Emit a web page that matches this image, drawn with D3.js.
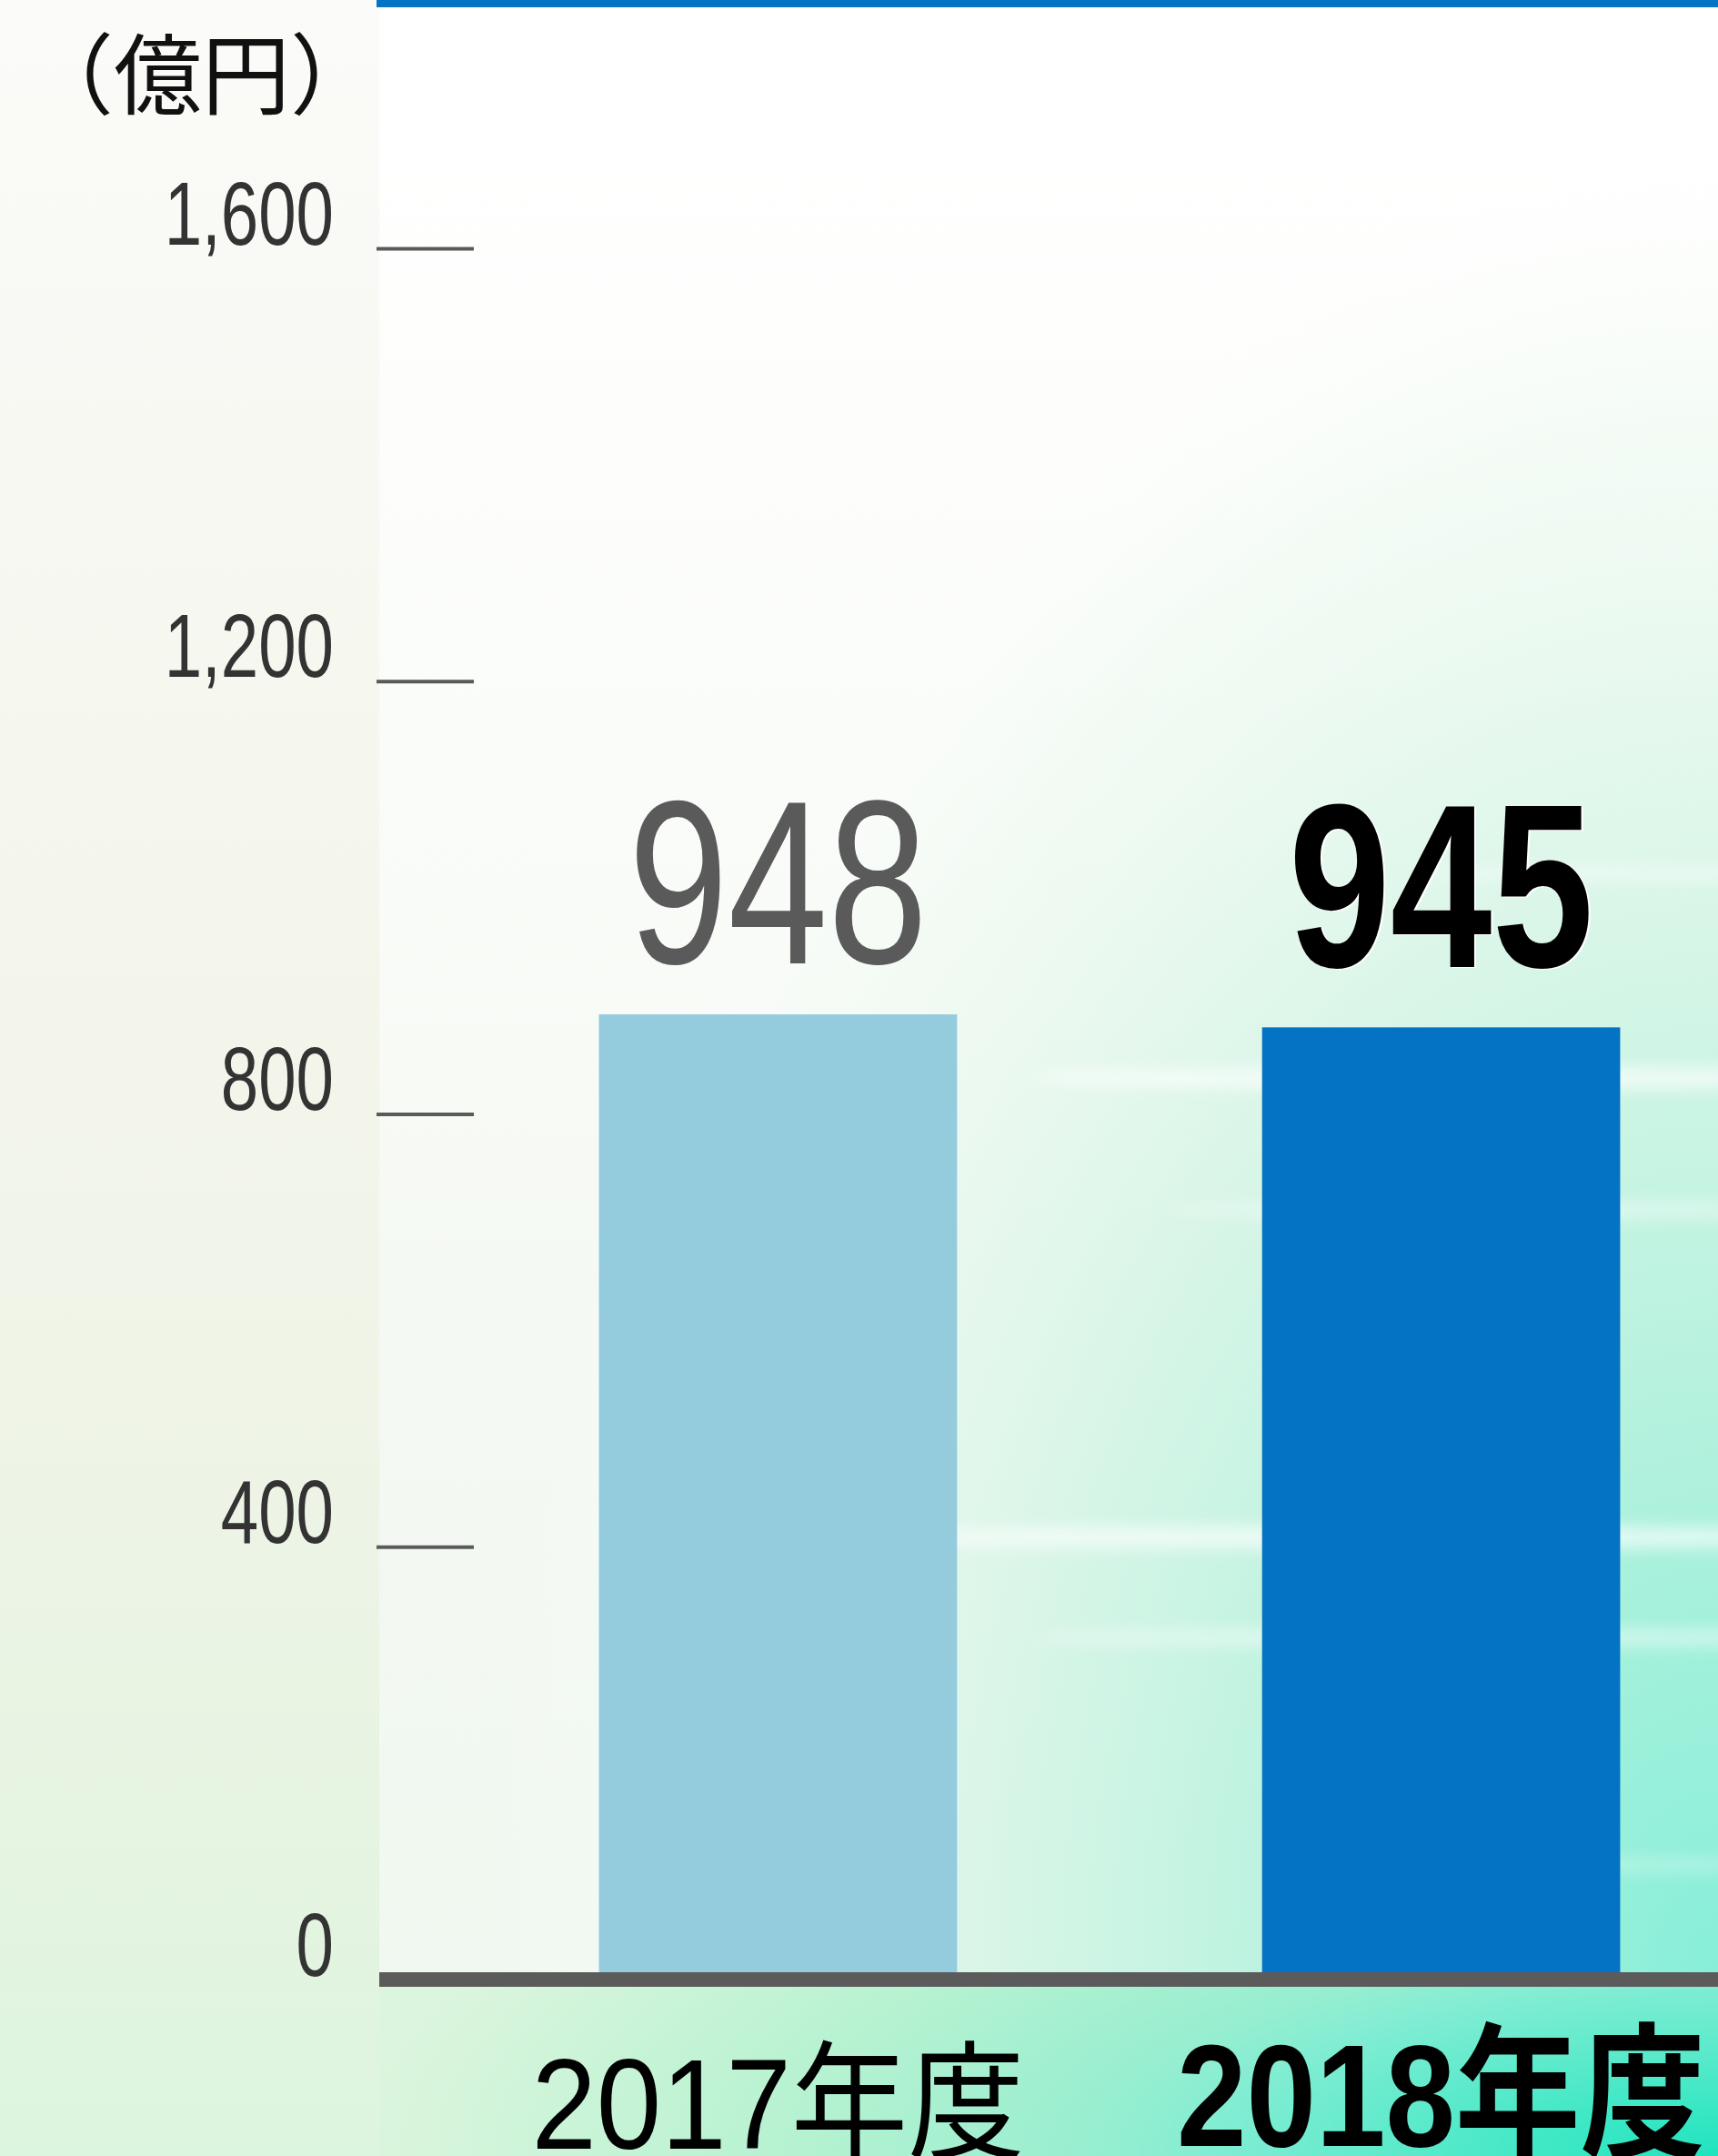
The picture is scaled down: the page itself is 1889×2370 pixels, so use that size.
<!DOCTYPE html>
<html>
<head>
<meta charset="utf-8">
<title>億円 2017年度 / 2018年度</title>
<script src="https://cdn.jsdelivr.net/npm/d3@7"></script>
<style>
  html, body { margin: 0; padding: 0; background: #fff; overflow: hidden; }
  svg { display: block; }
</style>
</head>
<body>
<div id="chart"></div>
<script>
// data
const categories = ["2017年度", "2018年度"];
const valueLabels = [948, 945];          // printed figures
const barValues = [892, 880];            // bar heights as measured against the axis ticks
const barColors = ["#94cbdd", "#0473c4"];
const tickValues = [0, 400, 800, 1200, 1600];
const unitLabel = "（億円）";

const width = 1889,
      height = 2370;

const latin = "'Liberation Sans', Arial, 'Noto Sans CJK JP', sans-serif";
const cjk = "'Noto Sans CJK JP', 'Liberation Sans', sans-serif";

const svg = d3.select("#chart").append("svg")
    .attr("width", width)
    .attr("height", height);

const defs = svg.append("defs");

function addStops(grad, stops) {
  stops.forEach(s => grad.append("stop")
    .attr("offset", s[0]).attr("stop-color", s[1])
    .attr("stop-opacity", s[2] === undefined ? 1 : s[2]));
}

// background gradients
addStops(defs.append("linearGradient").attr("id", "bgLin")
    .attr("x1", 0).attr("y1", 0).attr("x2", 0).attr("y2", 1),
  [[0, "#ffffff"], [0.2, "#fdfefc"], [0.6, "#f5f9f3"], [1, "#eef8ef"]]);

addStops(defs.append("radialGradient").attr("id", "plotRad")
    .attr("gradientUnits", "userSpaceOnUse")
    .attr("cx", 1889).attr("cy", 2176).attr("r", 1500)
    .attr("gradientTransform", "translate(1889,2176) scale(0.9,1.35) translate(-1889,-2176)"),
  [[0, "#86efd8", 1], [0.3, "#aff1dc", 0.95], [0.6, "#d3f5e5", 0.8], [0.85, "#ecf9f0", 0.5], [1, "#ffffff", 0]]);

addStops(defs.append("radialGradient").attr("id", "footRad")
    .attr("gradientUnits", "userSpaceOnUse")
    .attr("cx", 1889).attr("cy", 2370).attr("r", 1500)
    .attr("gradientTransform", "translate(1889,2370) scale(1,0.34) translate(-1889,-2370)"),
  [[0, "#1fe4be"], [0.13, "#40e8c6"], [0.38, "#84edd3"], [0.45, "#96eed0"], [0.68, "#b6f2d1"], [0.96, "#d8f5dc"], [1, "#dcf5de"]]);

addStops(defs.append("linearGradient").attr("id", "leftLin")
    .attr("x1", 0).attr("y1", 0).attr("x2", 0).attr("y2", 1),
  [[0, "#fbfbf9"], [0.3, "#f6f7ef"], [0.6, "#f1f4e8"], [0.85, "#e6f4e2"], [1, "#dcf5de"]]);

defs.append("filter").attr("id", "soft")
    .attr("x", "-20%").attr("y", "-300%").attr("width", "140%").attr("height", "700%")
  .append("feGaussianBlur").attr("stdDeviation", 9);

svg.append("rect").attr("width", width).attr("height", height).attr("fill", "url(#bgLin)");
svg.append("rect").attr("width", width).attr("height", height).attr("fill", "url(#plotRad)");
svg.append("rect").attr("x", 417).attr("y", 2176).attr("width", width - 417).attr("height", height - 2176)
    .attr("fill", "url(#footRad)");
svg.append("rect").attr("width", 417).attr("height", height).attr("fill", "url(#leftLin)");

// faint light streaks
const streaks = svg.append("g").attr("filter", "url(#soft)").attr("fill", "#ffffff");
[[1650, 1185, 520, 12, 0.7], [1700, 1330, 420, 8, 0.5], [1550, 1690, 650, 12, 0.7],
 [1650, 1800, 520, 9, 0.55], [1800, 960, 250, 8, 0.5], [1750, 2050, 300, 7, 0.35]]
  .forEach(s => streaks.append("ellipse")
    .attr("cx", s[0]).attr("cy", s[1]).attr("rx", s[2]).attr("ry", s[3]).attr("opacity", s[4]));

// top rule
svg.append("rect")
    .attr("x", 414).attr("y", 0)
    .attr("width", width - 414).attr("height", 8)
    .attr("fill", "#0673c4");

const x = d3.scaleBand()
    .domain(categories)
    .range([294, 2146])
    .paddingInner(0.46)
    .paddingOuter(0.5);

const y = d3.scaleLinear()
    .domain([0, 1600])
    .range([2176, 273]);

// y axis: short tick dashes, labels to the left
const yAxis = svg.append("g")
    .attr("transform", "translate(414,0)")
    .call(d3.axisRight(y).tickValues(tickValues).tickSize(107).tickFormat(d3.format(",")));
yAxis.select(".domain").remove();
yAxis.attr("font-family", latin).attr("font-size", 98);
yAxis.selectAll(".tick line")
    .attr("stroke", "#5a5a5a").attr("stroke-width", 4)
    .attr("display", d => d === 0 ? "none" : null);
yAxis.selectAll(".tick text")
    .attr("x", 0)
    .attr("dy", null)
    .attr("text-anchor", "end")
    .attr("fill", "#333333")
    .attr("transform", "translate(-47,-5) scale(0.76,1)");

svg.append("text")
    .attr("x", 222).attr("y", 118)
    .attr("text-anchor", "middle")
    .attr("font-family", cjk)
    .attr("font-size", 97)
    .attr("fill", "#111")
    .text(unitLabel);

// bars
svg.selectAll(".bar")
    .data(categories)
    .enter().append("rect")
    .attr("class", "bar")
    .attr("x", d => x(d))
    .attr("y", (d, i) => y(barValues[i]))
    .attr("width", x.bandwidth())
    .attr("height", (d, i) => y(0) - y(barValues[i]))
    .attr("fill", (d, i) => barColors[i]);

// baseline
svg.append("line")
    .attr("x1", 417).attr("x2", width)
    .attr("y1", y(0)).attr("y2", y(0))
    .attr("stroke", "#5b5b5b")
    .attr("stroke-width", 16);

// value labels
const labelStyle = [
  { weight: "normal", fill: "#5a5a5a", sx: 0.77, gap: 56 },
  { weight: "bold", fill: "#000000", sx: 0.785, gap: 66 }
];
categories.forEach((c, i) => {
  const cx = x(c) + x.bandwidth() / 2,
        st = labelStyle[i],
        cy = y(barValues[i]) - st.gap;
  if (st.weight === "bold") {
    svg.append("text")
        .attr("transform", `translate(${cx + 2},${cy + 1}) scale(${st.sx},1)`)
        .attr("text-anchor", "middle")
        .attr("font-family", latin)
        .attr("font-size", 256)
        .attr("font-weight", st.weight)
        .attr("fill", "#ffffff")
        .text(valueLabels[i]);
  }
  svg.append("text")
      .attr("transform", `translate(${cx},${cy}) scale(${st.sx},1)`)
      .attr("text-anchor", "middle")
      .attr("font-family", latin)
      .attr("font-size", 256)
      .attr("font-weight", st.weight)
      .attr("fill", st.fill)
      .text(valueLabels[i]);
});

// category labels
const catStyle = [
  { size: 141, weight: "normal", sx: 0.91, base: 2362 },
  { size: 160, weight: "bold", sx: 0.86, base: 2359 }
];
categories.forEach((c, i) => {
  const cx = x(c) + x.bandwidth() / 2, st = catStyle[i];
  svg.append("text")
      .attr("transform", `translate(${cx},${st.base}) scale(${st.sx},1)`)
      .attr("text-anchor", "middle")
      .attr("font-family", latin)
      .attr("font-size", st.size)
      .attr("font-weight", st.weight)
      .attr("fill", "#000")
      .text(c);
});
</script>
</body>
</html>
